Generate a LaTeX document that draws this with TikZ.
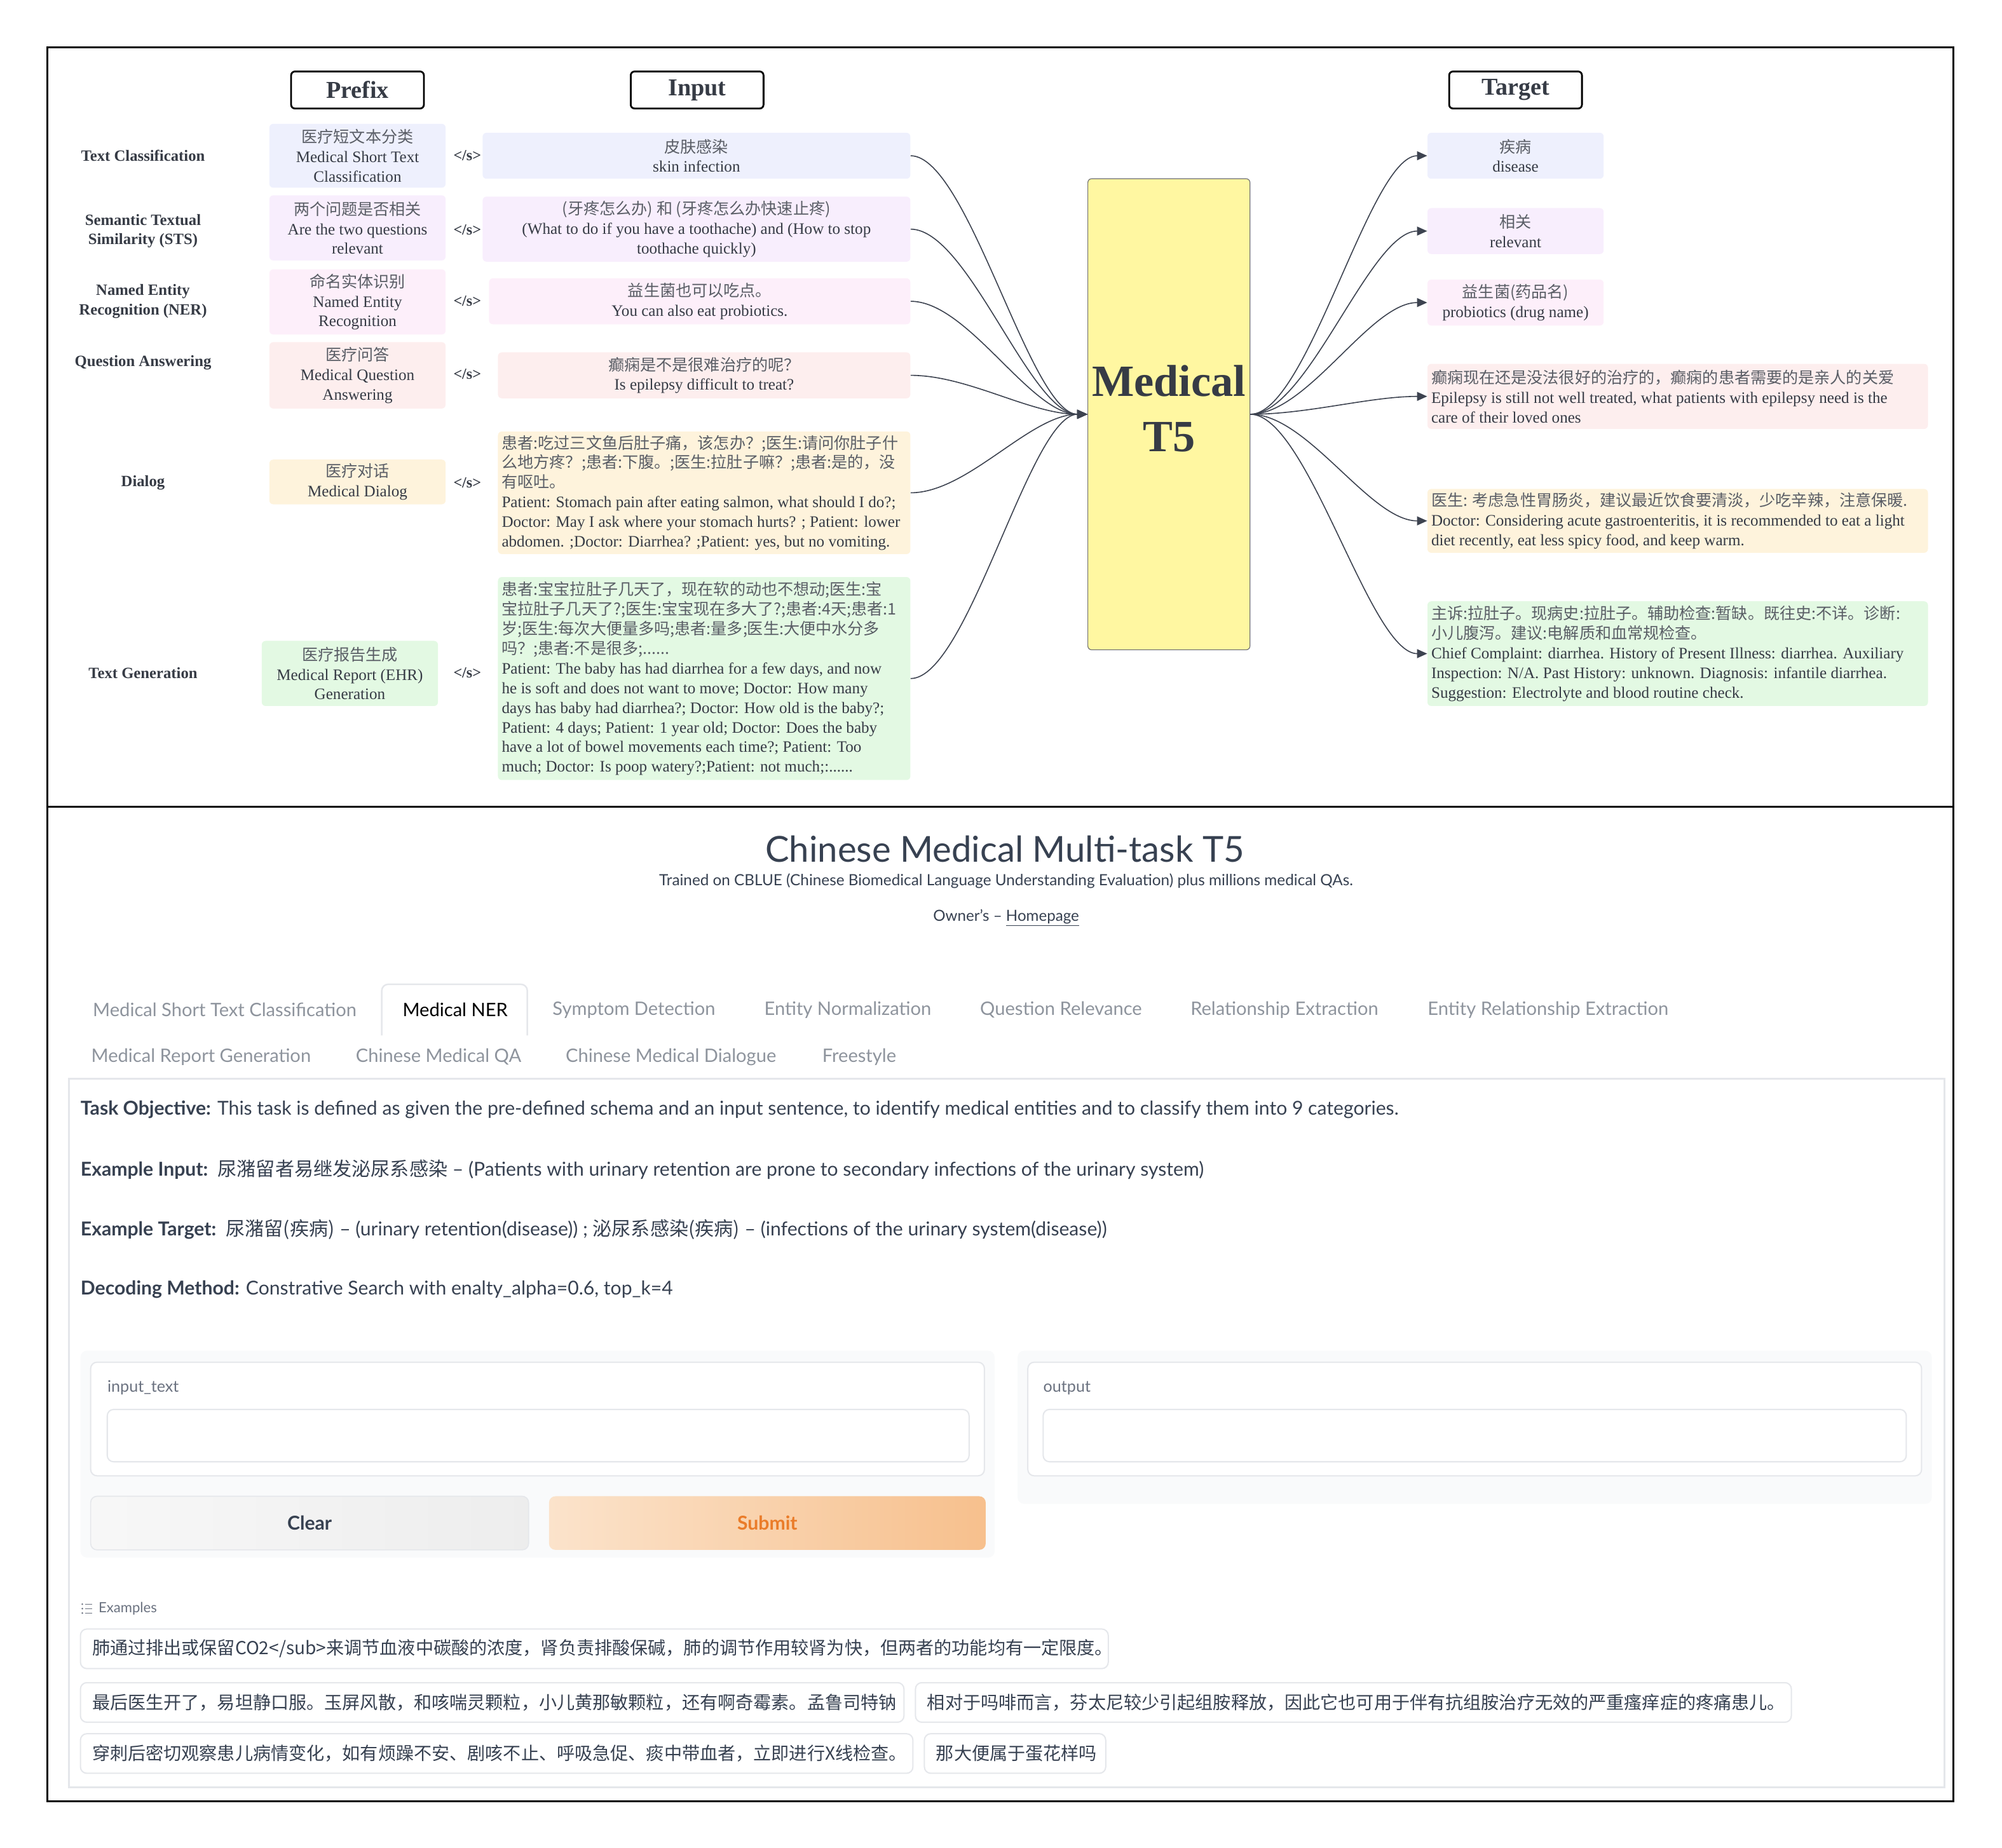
\documentclass[tikz,border=0pt]{standalone}
\usepackage{fontspec}
\setmainfont{Liberation Serif}
\newfontfamily\cjk{Noto Sans CJK SC}
\newfontfamily\ui{Lato}
\usetikzlibrary{arrows.meta}
\definecolor{cLav}{HTML}{EEF0FD}
\definecolor{cSts}{HTML}{F8EEFD}
\definecolor{cNer}{HTML}{FDEFFA}
\definecolor{cQa}{HTML}{FDEEEE}
\definecolor{cDlg}{HTML}{FEF3DC}
\definecolor{cGen}{HTML}{E3F9E3}
\definecolor{cYel}{HTML}{FFF7A1}
\definecolor{cTxt}{HTML}{363B45}
\definecolor{cZh}{HTML}{5A5E66}
\definecolor{cArr}{HTML}{3D4350}
\definecolor{gText}{HTML}{374151}
\definecolor{gTab}{HTML}{8E949D}
\definecolor{gLbl}{HTML}{6B7280}
\definecolor{gBorder}{HTML}{E5E7EB}
\definecolor{gBg}{HTML}{F9FAFB}
\definecolor{gOrange}{HTML}{EA7C2A}
\newcommand\zh[1]{{\cjk\color{cZh}#1}}
\begin{document}
\begin{tikzpicture}[x=1pt,y=-1pt,
  every node/.style={text=cTxt},
  hdr/.style={draw=black, line width=1.4pt, rounded corners=3pt, minimum width=104pt, minimum height=29pt, inner sep=0pt, font=\bfseries\fontsize{19}{22}\selectfont},
  rowlbl/.style={font=\bfseries\fontsize{12.3}{15}\selectfont, align=center, inner sep=0pt},
  pbox/.style={rounded corners=3pt, inner sep=0pt, align=center, font=\fontsize{12.5}{15.3}\selectfont},
  btxt/.style={anchor=west, inner sep=0pt, align=left, font=\fontsize{12.5}{15.4}\selectfont},
  sepl/.style={font=\bfseries\fontsize{12}{14}\selectfont, inner sep=0pt},
  conn/.style={draw=cArr, line width=0.8pt, -{Triangle[length=8pt,width=7pt]}},
  uitxt/.style={text=gText, inner sep=0pt, font=\ui\fontsize{15}{18}\selectfont},
  tab/.style={text=gTab, inner sep=0pt, font=\ui\fontsize{14.5}{17}\selectfont},
  chip/.style={draw=gBorder, fill=white, line width=1pt, rounded corners=5pt},
  chiptxt/.style={anchor=west, text=gText, inner sep=0pt, font=\cjk\fontsize{14}{17}\selectfont},
]
\useasboundingbox (0,0) rectangle (1568,1447.5);
% frame
\draw[line width=1.7pt] (37,37) rectangle (1530,1411);
\draw[line width=1.7pt] (37,632) -- (1530,632);

% headers
\node[hdr] (hPre) at (280,70.5) {Prefix};
\node[hdr] (hIn) at (546,70.5) {Input};
\node[hdr] (hTg) at (1187,70.5) {Target};

% row labels
\node[rowlbl] (r1) at (112,122) {Text Classification};
\node[rowlbl] (r2) at (112,181) {Semantic Textual\\Similarity (STS)};
\node[rowlbl] (r3) at (112,236) {Named Entity\\Recognition (NER)};
\node[rowlbl] (r4) at (112,284) {Question Answering};
\node[rowlbl] (r5) at (112,378) {Dialog};
\node[rowlbl] (r6) at (112,527) {Text Generation};

% prefix boxes
\node[pbox, fill=cLav, minimum width=138pt, minimum height=50pt] (p1) at (280,122) {\zh{医疗短文本分类}\\Medical Short Text\\Classification};
\node[pbox, fill=cSts, minimum width=138pt, minimum height=51pt] (p2) at (280,178.5) {\zh{两个问题是否相关}\\Are the two questions\\relevant};
\node[pbox, fill=cNer, minimum width=138pt, minimum height=51pt] (p3) at (280,236.5) {\zh{命名实体识别}\\Named Entity\\Recognition};
\node[pbox, fill=cQa, minimum width=138pt, minimum height=52pt] (p4) at (280,294) {\zh{医疗问答}\\Medical Question\\Answering};
\node[pbox, fill=cDlg, minimum width=138pt, minimum height=35pt] (p5) at (280,377.5) {\zh{医疗对话}\\Medical Dialog};
\node[pbox, fill=cGen, minimum width=138pt, minimum height=51pt] (p6) at (274,527.5) {\zh{医疗报告生成}\\Medical Report (EHR)\\Generation};

% separators
\node[sepl] (s1) at (366,122) {</s>};
\node[sepl] (s2) at (366,180) {</s>};
\node[sepl] (s3) at (366,236) {</s>};
\node[sepl] (s4) at (366,293) {</s>};
\node[sepl] (s5) at (366,378) {</s>};
\node[sepl] (s6) at (366,527) {</s>};

% input boxes
\node[pbox, fill=cLav, minimum width=335pt, minimum height=36pt] (i1) at (545.5,122) {\zh{皮肤感染}\\skin infection};
\node[pbox, fill=cSts, minimum width=335pt, minimum height=51pt] (i2) at (545.5,179.5) {\zh{(牙疼怎么办) 和 (牙疼怎么办快速止疼)}\\(What to do if you have a toothache) and (How to stop\\toothache quickly)};
\node[pbox, fill=cNer, minimum width=330pt, minimum height=36pt] (i3) at (548,236) {\zh{益生菌也可以吃点。}\\You can also eat probiotics.};
\node[pbox, fill=cQa, minimum width=323pt, minimum height=36pt] (i4) at (551.5,294) {\zh{癫痫是不是很难治疗的呢？}\\Is epilepsy difficult to treat?};
\node[pbox, fill=cDlg, minimum width=323pt, minimum height=96pt] (i5) at (551.5,386) {};
\node[btxt] (i5t) at ([xshift=3pt]i5.west) {\zh{患者:吃过三文鱼后肚子痛，该怎办？;医生:请问你肚子什}\\\zh{么地方疼？;患者:下腹。;医生:拉肚子嘛？;患者:是的，没}\\\zh{有呕吐。}\\Patient: Stomach pain after eating salmon, what should I do?;\\Doctor: May I ask where your stomach hurts? ; Patient: lower\\abdomen. ;Doctor: Diarrhea? ;Patient: yes, but no vomiting.};
\node[pbox, fill=cGen, minimum width=323pt, minimum height=159pt] (i6) at (551.5,531.5) {};
\node[btxt] (i6t) at ([xshift=3pt]i6.west) {\zh{患者:宝宝拉肚子几天了，现在软的动也不想动;医生:宝}\\\zh{宝拉肚子几天了?;医生:宝宝现在多大了?;患者:4天;患者:1}\\\zh{岁;医生:每次大便量多吗;患者:量多;医生:大便中水分多}\\\zh{吗？;患者:不是很多;......}\\Patient: The baby has had diarrhea for a few days, and now\\he is soft and does not want to move; Doctor: How many\\days has baby had diarrhea?; Doctor: How old is the baby?;\\Patient: 4 days; Patient: 1 year old; Doctor: Does the baby\\have a lot of bowel movements each time?; Patient: Too\\much; Doctor: Is poop watery?;Patient: not much;:......};

% model
\node[draw=black!55, line width=0.6pt, fill=cYel, rounded corners=3pt, minimum width=127pt, minimum height=369pt, inner sep=0pt] (m) at (915.5,324.5) {};
\node[inner sep=0pt, align=center, font=\bfseries\fontsize{35}{43}\selectfont] (mt) at (915.5,320) {Medical\\T5};

% targets
\node[pbox, fill=cLav, minimum width=138pt, minimum height=36pt] (t1) at (1187,122) {\zh{疾病}\\disease};
\node[pbox, fill=cSts, minimum width=138pt, minimum height=36pt] (t2) at (1187,181) {\zh{相关}\\relevant};
\node[pbox, fill=cNer, minimum width=138pt, minimum height=36pt] (t3) at (1187,237) {\zh{益生菌(药品名)}\\probiotics (drug name)};
\node[pbox, fill=cQa, minimum width=392pt, minimum height=51pt] (t4) at (1314,310.5) {};
\node[btxt] (t4t) at ([xshift=3pt]t4.west) {\zh{癫痫现在还是没法很好的治疗的，癫痫的患者需要的是亲人的关爱}\\Epilepsy is still not well treated, what patients with epilepsy need is the\\care of their loved ones};
\node[pbox, fill=cDlg, minimum width=392pt, minimum height=50pt] (t5) at (1314,408) {};
\node[btxt] (t5t) at ([xshift=3pt]t5.west) {\zh{医生: 考虑急性胃肠炎，建议最近饮食要清淡，少吃辛辣，注意保暖.}\\Doctor: Considering acute gastroenteritis, it is recommended to eat a light\\diet recently, eat less spicy food, and keep warm.};
\node[pbox, fill=cGen, minimum width=392pt, minimum height=82pt] (t6) at (1314,512) {};
\node[btxt] (t6t) at ([xshift=3pt]t6.west) {\zh{主诉:拉肚子。现病史:拉肚子。辅助检查:暂缺。既往史:不详。诊断:}\\\zh{小儿腹泻。建议:电解质和血常规检查。}\\Chief Complaint: diarrhea. History of Present Illness: diarrhea. Auxiliary\\Inspection: N/A. Past History: unknown. Diagnosis: infantile diarrhea.\\Suggestion: Electrolyte and blood routine check.};

% connectors in
\foreach \s in {i1,i2,i3,i4,i5,i6}
  \draw[conn] (\s.east) .. controls +(45,0) and +(-45,0) .. (m.west);
% connectors out
\foreach \t in {t1,t2,t3,t4,t5,t6}
  \draw[conn] (m.east) .. controls +(45,0) and +(-45,0) .. (\t.west);

% ===== bottom panel =====
\node[text=gText, inner sep=0pt, font=\ui\fontsize{28}{32}\selectfont] (title) at (787,665) {Chinese Medical Multi-task T5};
\node[text=gText, inner sep=0pt, font=\ui\fontsize{12.1}{14}\selectfont] (sub) at (788,690) {Trained on CBLUE (Chinese Biomedical Language Understanding Evaluation) plus millions medical QAs.};
\node[text=gText, inner sep=0pt, font=\ui\fontsize{12}{14}\selectfont] (own) at (788,719) {Owner’s – \underline{Homepage}};

% tabs
\draw[gBorder, line width=1.2pt, rounded corners=5pt] (299,811) -- (299,771) -- (413,771) -- (413,811);
\node[tab] (tb1) at (176,791) {Medical Short Text Classification};
\node[tab, text=black] (tb2) at (356.5,791) {Medical NER};
\node[tab] (tb3) at (496.5,791) {Symptom Detection};
\node[tab] (tb4) at (664,791) {Entity Normalization};
\node[tab] (tb5) at (831,791) {Question Relevance};
\node[tab] (tb6) at (1006,791) {Relationship Extraction};
\node[tab] (tb7) at (1212.5,791) {Entity Relationship Extraction};
\node[tab] (tb8) at (157.5,828) {Medical Report Generation};
\node[tab] (tb9) at (343.5,828) {Chinese Medical QA};
\node[tab] (tb10) at (525.5,828) {Chinese Medical Dialogue};
\node[tab] (tb11) at (673,828) {Freestyle};

% content panel
\draw[gBorder, line width=1.7pt] (54,845) rectangle (1523,1400);
\node[uitxt, anchor=west] (d1) at (63,869) {{\bfseries Task Objective:} This task is defined as given the pre-defined schema and an input sentence, to identify medical entities and to classify them into 9 categories.};
\node[uitxt, anchor=west] (d2) at (63,916) {{\bfseries Example Input:}\, {\cjk 尿潴留者易继发泌尿系感染} – (Patients with urinary retention are prone to secondary infections of the urinary system)};
\node[uitxt, anchor=west] (d3) at (63,963) {{\bfseries Example Target:}\, {\cjk 尿潴留(疾病)} – (urinary retention(disease)) ; {\cjk 泌尿系感染(疾病)} – (infections of the urinary system(disease))};
\node[uitxt, anchor=west] (d4) at (63,1010) {{\bfseries Decoding Method:} Constrative Search with enalty\_alpha=0.6, top\_k=4};

% input block
\fill[gBg, rounded corners=5pt] (63,1058) rectangle (779,1220);
\draw[gBorder, fill=white, line width=1pt, rounded corners=5pt] (71,1067) rectangle (771,1156);
\node[text=gLbl, inner sep=0pt, anchor=west, font=\ui\fontsize{12.5}{15}\selectfont] (lin) at (84,1087) {input\_text};
\draw[gBorder, fill=white, line width=1pt, rounded corners=5pt] (84,1104) rectangle (759,1145);
\shade[left color=gray!6, right color=gray!14, rounded corners=5pt] (71,1172) rectangle (414,1214);
\draw[gBorder, line width=0.8pt, rounded corners=5pt] (71,1172) rectangle (414,1214);
\node[text=gText, inner sep=0pt, font=\ui\bfseries\fontsize{15}{18}\selectfont] (clr) at (242.5,1193) {Clear};
\shade[left color={rgb,255:red,251;green,227;blue,203}, right color={rgb,255:red,247;green,192;blue,141}, rounded corners=5pt] (430,1172) rectangle (772,1214);
\node[text=gOrange, inner sep=0pt, font=\ui\bfseries\fontsize{15}{18}\selectfont] (sbm) at (601,1193) {Submit};

% output block
\fill[gBg, rounded corners=5pt] (797,1058) rectangle (1513,1178);
\draw[gBorder, fill=white, line width=1pt, rounded corners=5pt] (805,1067) rectangle (1505,1156);
\node[text=gLbl, inner sep=0pt, anchor=west, font=\ui\fontsize{12.5}{15}\selectfont] (lout) at (817,1087) {output};
\draw[gBorder, fill=white, line width=1pt, rounded corners=5pt] (817,1104) rectangle (1493,1145);

% examples
\foreach \yy in {1256.5,1260,1263.5} {
  \fill[gLbl] (64.5,\yy) circle (0.7pt);
  \draw[gLbl, line width=0.6pt] (66.5,\yy) -- (72,\yy);
}
\node[text=gLbl, inner sep=0pt, anchor=west, font=\ui\fontsize{11}{13}\selectfont] (exl) at (77,1260) {Examples};
\draw[chip] (63,1276) rectangle (868,1307);
\node[chiptxt] (e1) at (72,1291.5) {肺通过排出或保留CO2</sub>来调节血液中碳酸的浓度，肾负责排酸保碱，肺的调节作用较肾为快，但两者的功能均有一定限度。};
\draw[chip] (63,1318) rectangle (708,1349);
\node[chiptxt] (e2) at (72,1333.5) {最后医生开了，易坦静口服。玉屏风散，和咳喘灵颗粒，小儿黄那敏颗粒，还有啊奇霉素。孟鲁司特钠};
\draw[chip] (717,1318) rectangle (1403,1349);
\node[chiptxt] (e3) at (726,1333.5) {相对于吗啡而言，芬太尼较少引起组胺释放，因此它也可用于伴有抗组胺治疗无效的严重瘙痒症的疼痛患儿。};
\draw[chip] (63,1358) rectangle (715,1389);
\node[chiptxt] (e4) at (72,1373.5) {穿刺后密切观察患儿病情变化，如有烦躁不安、剧咳不止、呼吸急促、痰中带血者，立即进行X线检查。};
\draw[chip] (724,1358) rectangle (866,1389);
\node[chiptxt] (e5) at (733,1373.5) {那大便属于蛋花样吗};
\end{tikzpicture}
\end{document}
